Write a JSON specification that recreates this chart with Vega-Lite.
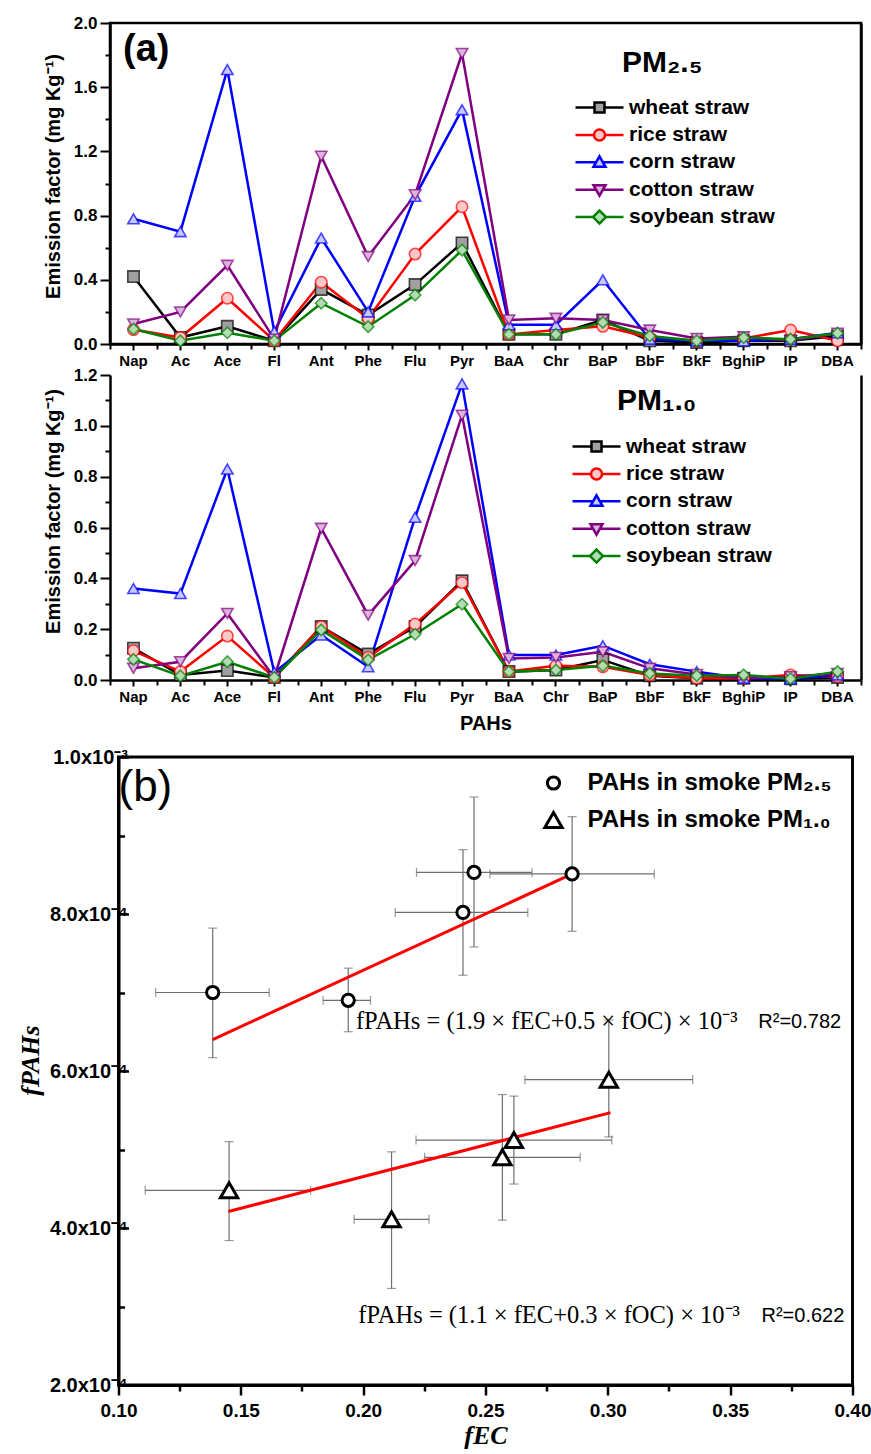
{
  "$schema": "https://vega.github.io/schema/vega-lite/v6.json",
  "padding": {"left": 16, "top": 12, "right": 0, "bottom": 0},
  "background": "white",
  "spacing": 31,
  "bounds": "flush",
  "center": true,
  "config": {
    "view": {"stroke": null},
    "font": "Liberation Sans",
    "axis": {"labelColor": "#000", "titleColor": "#000", "grid": false, "tickColor": "#000", "domainColor": "#000"},
    "legend": {"labelColor": "#000", "titleColor": "#000"}
  },
  "datasets": {
    "pm25": [
      {"pah":"Nap","straw":"wheat straw","ef":0.42},{"pah":"Ac","straw":"wheat straw","ef":0.04},{"pah":"Ace","straw":"wheat straw","ef":0.11},{"pah":"Fl","straw":"wheat straw","ef":0.02},{"pah":"Ant","straw":"wheat straw","ef":0.34},{"pah":"Phe","straw":"wheat straw","ef":0.18},{"pah":"Flu","straw":"wheat straw","ef":0.37},{"pah":"Pyr","straw":"wheat straw","ef":0.63},{"pah":"BaA","straw":"wheat straw","ef":0.06},{"pah":"Chr","straw":"wheat straw","ef":0.06},{"pah":"BaP","straw":"wheat straw","ef":0.15},{"pah":"BbF","straw":"wheat straw","ef":0.02},{"pah":"BkF","straw":"wheat straw","ef":0.01},{"pah":"BghiP","straw":"wheat straw","ef":0.02},{"pah":"IP","straw":"wheat straw","ef":0.02},{"pah":"DBA","straw":"wheat straw","ef":0.05},
      {"pah":"Nap","straw":"rice straw","ef":0.09},{"pah":"Ac","straw":"rice straw","ef":0.04},{"pah":"Ace","straw":"rice straw","ef":0.285},{"pah":"Fl","straw":"rice straw","ef":0.02},{"pah":"Ant","straw":"rice straw","ef":0.385},{"pah":"Phe","straw":"rice straw","ef":0.16},{"pah":"Flu","straw":"rice straw","ef":0.56},{"pah":"Pyr","straw":"rice straw","ef":0.855},{"pah":"BaA","straw":"rice straw","ef":0.06},{"pah":"Chr","straw":"rice straw","ef":0.087},{"pah":"BaP","straw":"rice straw","ef":0.11},{"pah":"BbF","straw":"rice straw","ef":0.04},{"pah":"BkF","straw":"rice straw","ef":0.02},{"pah":"BghiP","straw":"rice straw","ef":0.035},{"pah":"IP","straw":"rice straw","ef":0.087},{"pah":"DBA","straw":"rice straw","ef":0.02},
      {"pah":"Nap","straw":"corn straw","ef":0.78},{"pah":"Ac","straw":"corn straw","ef":0.70},{"pah":"Ace","straw":"corn straw","ef":1.71},{"pah":"Fl","straw":"corn straw","ef":0.077},{"pah":"Ant","straw":"corn straw","ef":0.66},{"pah":"Phe","straw":"corn straw","ef":0.20},{"pah":"Flu","straw":"corn straw","ef":0.92},{"pah":"Pyr","straw":"corn straw","ef":1.46},{"pah":"BaA","straw":"corn straw","ef":0.12},{"pah":"Chr","straw":"corn straw","ef":0.12},{"pah":"BaP","straw":"corn straw","ef":0.40},{"pah":"BbF","straw":"corn straw","ef":0.03},{"pah":"BkF","straw":"corn straw","ef":0.02},{"pah":"BghiP","straw":"corn straw","ef":0.02},{"pah":"IP","straw":"corn straw","ef":0.03},{"pah":"DBA","straw":"corn straw","ef":0.07},
      {"pah":"Nap","straw":"cotton straw","ef":0.125},{"pah":"Ac","straw":"cotton straw","ef":0.20},{"pah":"Ace","straw":"cotton straw","ef":0.49},{"pah":"Fl","straw":"cotton straw","ef":0.03},{"pah":"Ant","straw":"cotton straw","ef":1.17},{"pah":"Phe","straw":"cotton straw","ef":0.545},{"pah":"Flu","straw":"cotton straw","ef":0.93},{"pah":"Pyr","straw":"cotton straw","ef":1.81},{"pah":"BaA","straw":"cotton straw","ef":0.15},{"pah":"Chr","straw":"cotton straw","ef":0.16},{"pah":"BaP","straw":"cotton straw","ef":0.15},{"pah":"BbF","straw":"cotton straw","ef":0.087},{"pah":"BkF","straw":"cotton straw","ef":0.035},{"pah":"BghiP","straw":"cotton straw","ef":0.045},{"pah":"IP","straw":"cotton straw","ef":0.02},{"pah":"DBA","straw":"cotton straw","ef":0.067},
      {"pah":"Nap","straw":"soybean straw","ef":0.093},{"pah":"Ac","straw":"soybean straw","ef":0.02},{"pah":"Ace","straw":"soybean straw","ef":0.07},{"pah":"Fl","straw":"soybean straw","ef":0.02},{"pah":"Ant","straw":"soybean straw","ef":0.254},{"pah":"Phe","straw":"soybean straw","ef":0.108},{"pah":"Flu","straw":"soybean straw","ef":0.305},{"pah":"Pyr","straw":"soybean straw","ef":0.585},{"pah":"BaA","straw":"soybean straw","ef":0.06},{"pah":"Chr","straw":"soybean straw","ef":0.06},{"pah":"BaP","straw":"soybean straw","ef":0.135},{"pah":"BbF","straw":"soybean straw","ef":0.05},{"pah":"BkF","straw":"soybean straw","ef":0.02},{"pah":"BghiP","straw":"soybean straw","ef":0.04},{"pah":"IP","straw":"soybean straw","ef":0.03},{"pah":"DBA","straw":"soybean straw","ef":0.067}
    ],
    "pm10": [
      {"pah":"Nap","straw":"wheat straw","ef":0.125},{"pah":"Ac","straw":"wheat straw","ef":0.02},{"pah":"Ace","straw":"wheat straw","ef":0.037},{"pah":"Fl","straw":"wheat straw","ef":0.01},{"pah":"Ant","straw":"wheat straw","ef":0.21},{"pah":"Phe","straw":"wheat straw","ef":0.102},{"pah":"Flu","straw":"wheat straw","ef":0.21},{"pah":"Pyr","straw":"wheat straw","ef":0.39},{"pah":"BaA","straw":"wheat straw","ef":0.033},{"pah":"Chr","straw":"wheat straw","ef":0.039},{"pah":"BaP","straw":"wheat straw","ef":0.079},{"pah":"BbF","straw":"wheat straw","ef":0.017},{"pah":"BkF","straw":"wheat straw","ef":0.007},{"pah":"BghiP","straw":"wheat straw","ef":0.007},{"pah":"IP","straw":"wheat straw","ef":0.005},{"pah":"DBA","straw":"wheat straw","ef":0.01},
      {"pah":"Nap","straw":"rice straw","ef":0.115},{"pah":"Ac","straw":"rice straw","ef":0.033},{"pah":"Ace","straw":"rice straw","ef":0.173},{"pah":"Fl","straw":"rice straw","ef":0.01},{"pah":"Ant","straw":"rice straw","ef":0.21},{"pah":"Phe","straw":"rice straw","ef":0.089},{"pah":"Flu","straw":"rice straw","ef":0.22},{"pah":"Pyr","straw":"rice straw","ef":0.383},{"pah":"BaA","straw":"rice straw","ef":0.033},{"pah":"Chr","straw":"rice straw","ef":0.056},{"pah":"BaP","straw":"rice straw","ef":0.052},{"pah":"BbF","straw":"rice straw","ef":0.02},{"pah":"BkF","straw":"rice straw","ef":0.007},{"pah":"BghiP","straw":"rice straw","ef":0.007},{"pah":"IP","straw":"rice straw","ef":0.02},{"pah":"DBA","straw":"rice straw","ef":0.013},
      {"pah":"Nap","straw":"corn straw","ef":0.36},{"pah":"Ac","straw":"corn straw","ef":0.34},{"pah":"Ace","straw":"corn straw","ef":0.83},{"pah":"Fl","straw":"corn straw","ef":0.03},{"pah":"Ant","straw":"corn straw","ef":0.177},{"pah":"Phe","straw":"corn straw","ef":0.052},{"pah":"Flu","straw":"corn straw","ef":0.64},{"pah":"Pyr","straw":"corn straw","ef":1.165},{"pah":"BaA","straw":"corn straw","ef":0.098},{"pah":"Chr","straw":"corn straw","ef":0.098},{"pah":"BaP","straw":"corn straw","ef":0.135},{"pah":"BbF","straw":"corn straw","ef":0.062},{"pah":"BkF","straw":"corn straw","ef":0.033},{"pah":"BghiP","straw":"corn straw","ef":0.007},{"pah":"IP","straw":"corn straw","ef":0.005},{"pah":"DBA","straw":"corn straw","ef":0.02},
      {"pah":"Nap","straw":"cotton straw","ef":0.046},{"pah":"Ac","straw":"cotton straw","ef":0.072},{"pah":"Ace","straw":"cotton straw","ef":0.262},{"pah":"Fl","straw":"cotton straw","ef":0.01},{"pah":"Ant","straw":"cotton straw","ef":0.597},{"pah":"Phe","straw":"cotton straw","ef":0.255},{"pah":"Flu","straw":"cotton straw","ef":0.47},{"pah":"Pyr","straw":"cotton straw","ef":1.042},{"pah":"BaA","straw":"cotton straw","ef":0.085},{"pah":"Chr","straw":"cotton straw","ef":0.089},{"pah":"BaP","straw":"cotton straw","ef":0.111},{"pah":"BbF","straw":"cotton straw","ef":0.046},{"pah":"BkF","straw":"cotton straw","ef":0.022},{"pah":"BghiP","straw":"cotton straw","ef":0.007},{"pah":"IP","straw":"cotton straw","ef":0.013},{"pah":"DBA","straw":"cotton straw","ef":0.026},
      {"pah":"Nap","straw":"soybean straw","ef":0.081},{"pah":"Ac","straw":"soybean straw","ef":0.016},{"pah":"Ace","straw":"soybean straw","ef":0.072},{"pah":"Fl","straw":"soybean straw","ef":0.01},{"pah":"Ant","straw":"soybean straw","ef":0.197},{"pah":"Phe","straw":"soybean straw","ef":0.079},{"pah":"Flu","straw":"soybean straw","ef":0.18},{"pah":"Pyr","straw":"soybean straw","ef":0.298},{"pah":"BaA","straw":"soybean straw","ef":0.033},{"pah":"Chr","straw":"soybean straw","ef":0.039},{"pah":"BaP","straw":"soybean straw","ef":0.056},{"pah":"BbF","straw":"soybean straw","ef":0.026},{"pah":"BkF","straw":"soybean straw","ef":0.017},{"pah":"BghiP","straw":"soybean straw","ef":0.02},{"pah":"IP","straw":"soybean straw","ef":0.005},{"pah":"DBA","straw":"soybean straw","ef":0.033}
    ],
    "pts": [
      {"type":"PAHs in smoke PM₂.₅","fec":0.1385,"fpahs":0.000700,"xlo":0.1152,"xhi":0.1616,"ylo":0.000617,"yhi":0.000782},
      {"type":"PAHs in smoke PM₂.₅","fec":0.1939,"fpahs":0.000690,"xlo":0.1836,"xhi":0.2030,"ylo":0.000650,"yhi":0.000731},
      {"type":"PAHs in smoke PM₂.₅","fec":0.2408,"fpahs":0.000802,"xlo":0.2131,"xhi":0.2673,"ylo":0.000722,"yhi":0.000882},
      {"type":"PAHs in smoke PM₂.₅","fec":0.2453,"fpahs":0.000853,"xlo":0.2218,"xhi":0.2690,"ylo":0.000758,"yhi":0.000949},
      {"type":"PAHs in smoke PM₂.₅","fec":0.2854,"fpahs":0.000851,"xlo":0.2518,"xhi":0.3190,"ylo":0.000778,"yhi":0.000924},
      {"type":"PAHs in smoke PM₁.₀","fec":0.1452,"fpahs":0.000448,"xlo":0.1109,"xhi":0.1785,"ylo":0.000384,"yhi":0.000510},
      {"type":"PAHs in smoke PM₁.₀","fec":0.2116,"fpahs":0.000411,"xlo":0.1963,"xhi":0.2269,"ylo":0.000323,"yhi":0.000497},
      {"type":"PAHs in smoke PM₁.₀","fec":0.2569,"fpahs":0.000490,"xlo":0.2251,"xhi":0.2887,"ylo":0.000410,"yhi":0.000570},
      {"type":"PAHs in smoke PM₁.₀","fec":0.2616,"fpahs":0.000512,"xlo":0.2216,"xhi":0.3016,"ylo":0.000456,"yhi":0.000568},
      {"type":"PAHs in smoke PM₁.₀","fec":0.3004,"fpahs":0.000589,"xlo":0.2661,"xhi":0.3347,"ylo":0.000516,"yhi":0.000665}
    ],
    "fit": [
      {"type":"PM2.5","fec":0.1385,"fpahs":0.000640},
      {"type":"PM2.5","fec":0.2854,"fpahs":0.000851},
      {"type":"PM1.0","fec":0.1449,"fpahs":0.000421},
      {"type":"PM1.0","fec":0.3011,"fpahs":0.000547}
    ],
    "eqs": [
      {"eq":"fPAHs = (1.9 × fEC+0.5 × fOC) × 10⁻³","r2":"R²=0.782","ex":0.353,"ey":0.000662,"rx":0.3615},
      {"eq":"fPAHs = (1.1 × fEC+0.3 × fOC) × 10⁻³","r2":"R²=0.622","ex":0.354,"ey":0.000288,"rx":0.3628}
    ]
  },
  "resolve": {"scale": {"color": "independent", "stroke": "independent", "fill": "independent", "shape": "independent", "size": "independent"}},
  "vconcat": [
    {
      "width": 751, "height": 321,
      "data": {"name": "pm25"},
      "view": {"stroke": "#000", "strokeWidth": 2.5},
      "title": {"text": "(a)", "anchor": "start", "frame": "group", "baseline": "top", "offset": 0, "dx": 13, "dy": 55, "fontSize": 38, "fontWeight": "bold", "font": "Liberation Sans", "color": "#000"},
      "layer": [
        {
          "mark": {"type": "line", "strokeWidth": 2.5},
          "encoding": {
            "x": {"field": "pah", "type": "nominal", "sort": ["Nap","Ac","Ace","Fl","Ant","Phe","Flu","Pyr","BaA","Chr","BaP","BbF","BkF","BghiP","IP","DBA"], "scale": {"type": "band", "paddingInner": 0, "paddingOuter": 0},
              "axis": {"orient": "bottom", "title": null, "labelFontSize": 15, "labelFontWeight": "bold", "labelAngle": 0, "tickSize": 6, "tickWidth": 2, "domainWidth": 2.5, "labelPadding": 3}},
            "y": {"field": "ef", "type": "quantitative", "scale": {"domain": [0, 2], "nice": false},
              "axis": {"orient": "left", "values": [0,0.2,0.4,0.6,0.8,1.0,1.2,1.4,1.6,1.8,2.0], "labelExpr": "round(datum.value*10) % 4 === 0 ? format(datum.value, '.1f') : ''", "tickSize": {"condition": {"test": "round(datum.value*10) % 4 === 0", "value": 10}, "value": 5}, "tickWidth": 2, "domainWidth": 2.5, "labelFontSize": 17, "labelFontWeight": "bold", "labelPadding": 3, "title": "Emission factor (mg Kg⁻¹)", "titleFontSize": 20, "titleFontWeight": "bold", "titleX": -57, "titleY": 153, "titleBaseline": "middle"}},
            "stroke": {"field": "straw", "type": "nominal", "scale": {"domain": ["wheat straw","rice straw","corn straw","cotton straw","soybean straw"], "range": ["#000000","#ff0000","#0000ff","#800080","#008000"]},
              "legend": {"orient": "none", "legendX": 479, "legendY": 25, "title": "PM₂.₅", "titleFontSize": 30, "titleFontWeight": "bold", "titlePadding": 19, "titleAnchor": "start", "labelFontSize": 21, "labelFontWeight": "bold", "labelOffset": 19, "rowPadding": 4.4, "gridAlign": "all", "symbolSize": 100, "symbolStrokeWidth": 2.5, "padding": 0, "labelLimit": 400,
                "encoding": {
                  "symbols": {
                    "shape": {"value": {"expr": "datum.value === 'wheat straw' ? 'M-4.8,0H-1M1,0H4.8M-1,-1H1V1H-1Z' : datum.value === 'rice straw' ? 'M-4.8,0H-1.1M1.1,0H4.8M-1.1,0A1.1,1.1,0,1,1,1.1,0A1.1,1.1,0,1,1,-1.1,0Z' : datum.value === 'corn straw' ? 'M-4.8,0H-0.69M0.69,0H4.8M0,-1.2L1.2,0.9L-1.2,0.9Z' : datum.value === 'cotton straw' ? 'M-4.8,0H-0.69M0.69,0H4.8M0,1.2L1.2,-0.9L-1.2,-0.9Z' : 'M-4.8,0H-1.3M1.3,0H4.8M0,-1.3L1.3,0L0,1.3L-1.3,0Z'"}},
                    "fill": {"value": {"expr": "datum.value === 'wheat straw' ? '#a0a0a0' : datum.value === 'rice straw' ? '#ffc8c8' : datum.value === 'corn straw' ? '#c8c8ff' : datum.value === 'cotton straw' ? '#dcb4dc' : '#b4dcb4'"}},
                    "size": {"value": 100},
                    "strokeWidth": {"value": 2.5},
                    "opacity": {"value": 1},
                    "strokeOpacity": {"value": 1},
                    "fillOpacity": {"value": 1}
                  },
                  "title": {"dx": {"value": 33}}
                }}}
          }
        },
        {
          "mark": {"type": "point", "size": 130, "strokeWidth": 1.6, "strokeOpacity": 0.7, "opacity": 1, "fillOpacity": 1},
          "encoding": {
            "x": {"field": "pah", "type": "nominal", "sort": ["Nap","Ac","Ace","Fl","Ant","Phe","Flu","Pyr","BaA","Chr","BaP","BbF","BkF","BghiP","IP","DBA"],
              "axis": {"orient": "bottom", "title": null, "labels": false, "domain": false, "tickBand": "extent", "tickSize": 5, "tickWidth": 2}},
            "y": {"field": "ef", "type": "quantitative",
              "axis": {"orient": "right", "labels": false, "ticks": false, "domain": true, "domainWidth": 2.5, "title": null}},
            "shape": {"field": "straw", "type": "nominal", "sort": ["wheat straw","rice straw","corn straw","cotton straw","soybean straw"], "scale": {"range": ["square","circle","triangle-up","triangle-down","diamond"]}, "legend": null},
            "fill": {"field": "straw", "type": "nominal", "sort": ["wheat straw","rice straw","corn straw","cotton straw","soybean straw"], "scale": {"range": ["#a0a0a0","#ffc8c8","#c8c8ff","#dcb4dc","#b4dcb4"]}, "legend": null},
            "stroke": {"field": "straw", "type": "nominal"}
          }
        }
      ],
      "resolve": {"axis": {"x": "independent", "y": "independent"}}
    },
    {
      "width": 751, "height": 305,
      "data": {"name": "pm10"},
      "layer": [
        {
          "mark": {"type": "line", "strokeWidth": 2.5},
          "encoding": {
            "x": {"field": "pah", "type": "nominal", "sort": ["Nap","Ac","Ace","Fl","Ant","Phe","Flu","Pyr","BaA","Chr","BaP","BbF","BkF","BghiP","IP","DBA"], "scale": {"type": "band", "paddingInner": 0, "paddingOuter": 0},
              "axis": {"orient": "bottom", "title": "PAHs", "titleFontSize": 20, "titleFontWeight": "bold", "titleY": 43, "titleBaseline": "middle", "labelFontSize": 15, "labelFontWeight": "bold", "labelAngle": 0, "tickSize": 6, "tickWidth": 2, "domainWidth": 2.5, "labelPadding": 3}},
            "y": {"field": "ef", "type": "quantitative", "scale": {"domain": [0, 1.2], "nice": false},
              "axis": {"orient": "left", "values": [0,0.1,0.2,0.3,0.4,0.5,0.6,0.7,0.8,0.9,1.0,1.1,1.2], "labelExpr": "round(datum.value*10) % 2 === 0 ? format(datum.value, '.1f') : ''", "tickSize": {"condition": {"test": "round(datum.value*10) % 2 === 0", "value": 10}, "value": 5}, "tickWidth": 2, "domainWidth": 2.5, "labelFontSize": 17, "labelFontWeight": "bold", "labelPadding": 3, "title": "Emission factor (mg Kg⁻¹)", "titleFontSize": 20, "titleFontWeight": "bold", "titleX": -57, "titleY": 136, "titleBaseline": "middle"}},
            "stroke": {"field": "straw", "type": "nominal", "scale": {"domain": ["wheat straw","rice straw","corn straw","cotton straw","soybean straw"], "range": ["#000000","#ff0000","#0000ff","#800080","#008000"]},
              "legend": {"orient": "none", "legendX": 476, "legendY": 11, "title": "PM₁.₀", "titleFontSize": 30, "titleFontWeight": "bold", "titlePadding": 20, "titleAnchor": "start", "labelFontSize": 21, "labelFontWeight": "bold", "labelOffset": 19, "rowPadding": 4.4, "gridAlign": "all", "symbolSize": 100, "symbolStrokeWidth": 2.5, "padding": 0, "labelLimit": 400,
                "encoding": {
                  "symbols": {
                    "shape": {"value": {"expr": "datum.value === 'wheat straw' ? 'M-4.8,0H-1M1,0H4.8M-1,-1H1V1H-1Z' : datum.value === 'rice straw' ? 'M-4.8,0H-1.1M1.1,0H4.8M-1.1,0A1.1,1.1,0,1,1,1.1,0A1.1,1.1,0,1,1,-1.1,0Z' : datum.value === 'corn straw' ? 'M-4.8,0H-0.69M0.69,0H4.8M0,-1.2L1.2,0.9L-1.2,0.9Z' : datum.value === 'cotton straw' ? 'M-4.8,0H-0.69M0.69,0H4.8M0,1.2L1.2,-0.9L-1.2,-0.9Z' : 'M-4.8,0H-1.3M1.3,0H4.8M0,-1.3L1.3,0L0,1.3L-1.3,0Z'"}},
                    "fill": {"value": {"expr": "datum.value === 'wheat straw' ? '#a0a0a0' : datum.value === 'rice straw' ? '#ffc8c8' : datum.value === 'corn straw' ? '#c8c8ff' : datum.value === 'cotton straw' ? '#dcb4dc' : '#b4dcb4'"}},
                    "size": {"value": 100},
                    "strokeWidth": {"value": 2.5},
                    "opacity": {"value": 1},
                    "strokeOpacity": {"value": 1},
                    "fillOpacity": {"value": 1}
                  },
                  "title": {"dx": {"value": 31}}
                }}}
          }
        },
        {
          "mark": {"type": "point", "size": 130, "strokeWidth": 1.6, "strokeOpacity": 0.7, "opacity": 1, "fillOpacity": 1},
          "encoding": {
            "x": {"field": "pah", "type": "nominal", "sort": ["Nap","Ac","Ace","Fl","Ant","Phe","Flu","Pyr","BaA","Chr","BaP","BbF","BkF","BghiP","IP","DBA"],
              "axis": {"orient": "bottom", "title": null, "labels": false, "domain": false, "tickBand": "extent", "tickSize": 5, "tickWidth": 2}},
            "y": {"field": "ef", "type": "quantitative",
              "axis": {"orient": "right", "labels": false, "ticks": false, "domain": true, "domainWidth": 2.5, "title": null}},
            "shape": {"field": "straw", "type": "nominal", "sort": ["wheat straw","rice straw","corn straw","cotton straw","soybean straw"], "scale": {"range": ["square","circle","triangle-up","triangle-down","diamond"]}, "legend": null},
            "fill": {"field": "straw", "type": "nominal", "sort": ["wheat straw","rice straw","corn straw","cotton straw","soybean straw"], "scale": {"range": ["#a0a0a0","#ffc8c8","#c8c8ff","#dcb4dc","#b4dcb4"]}, "legend": null},
            "stroke": {"field": "straw", "type": "nominal"}
          }
        }
      ],
      "resolve": {"axis": {"x": "independent", "y": "independent"}}
    },
    {
      "width": 751, "height": 15,
      "data": {"values": [{}]},
      "mark": {"type": "text", "text": ""},
      "encoding": {}
    },
    {
      "width": 734, "height": 628,
      "view": {"stroke": "#000", "strokeWidth": 3},
      "title": {"text": "(b)", "anchor": "start", "frame": "group", "baseline": "top", "offset": 0, "dx": 0, "dy": 63, "fontSize": 44, "fontWeight": "normal", "font": "Liberation Sans", "color": "#000"},
      "layer": [
        {
          "data": {"name": "pts"},
          "mark": {"type": "rule", "color": "#6e6e6e", "strokeWidth": 1.2},
          "encoding": {
            "x": {"field": "xlo", "type": "quantitative", "scale": {"domain": [0.1, 0.4], "nice": false, "zero": false},
              "axis": {"values": [0.1,0.125,0.15,0.175,0.2,0.225,0.25,0.275,0.3,0.325,0.35,0.375,0.4], "labelExpr": "round(datum.value*1000) % 50 === 0 ? format(datum.value, '.2f') : ''", "labelFlush": false, "tickSize": {"condition": {"test": "round(datum.value*1000) % 50 === 0", "value": 10}, "value": 6}, "tickWidth": 2.5, "domainWidth": 3, "labelFontSize": 19, "labelFontWeight": "bold", "labelPadding": 6, "title": "fEC", "titleFont": "Liberation Serif", "titleFontStyle": "italic", "titleFontWeight": "bold", "titleFontSize": 26, "titleY": 50, "titleBaseline": "middle"}},
            "x2": {"field": "xhi"},
            "y": {"field": "fpahs", "type": "quantitative", "scale": {"domain": [0.0002, 0.001], "nice": false, "zero": false},
              "axis": {"values": [0.0002,0.0003,0.0004,0.0005,0.0006,0.0007,0.0008,0.0009,0.001], "labelExpr": "round(datum.value*10000) % 2 === 0 ? (datum.value > 0.00099 ? '1.0x10⁻³' : format(datum.value*10000, '.1f') + 'x10⁻⁴') : ''", "labelFlush": false, "tickSize": {"condition": {"test": "round(datum.value*10000) % 2 === 0", "value": -10}, "value": -6}, "tickWidth": 2.5, "domainWidth": 3, "labelFontSize": 20, "labelFontWeight": "bold", "labelPadding": 1, "title": "fPAHs", "titleFont": "Liberation Serif", "titleFontStyle": "italic", "titleFontWeight": "bold", "titleFontSize": 26, "titleX": -88, "titleY": 303, "titleBaseline": "middle"}}
          }
        },
        {
          "data": {"name": "pts"},
          "mark": {"type": "rule", "color": "#6e6e6e", "strokeWidth": 1.2},
          "encoding": {
            "x": {"field": "fec", "type": "quantitative"},
            "y": {"field": "ylo", "type": "quantitative"},
            "y2": {"field": "yhi"}
          }
        },
        {
          "data": {"name": "pts"},
          "mark": {"type": "tick", "orient": "vertical", "size": 9, "thickness": 1.2, "color": "#6e6e6e"},
          "encoding": {"x": {"field": "xlo", "type": "quantitative"}, "y": {"field": "fpahs", "type": "quantitative"}}
        },
        {
          "data": {"name": "pts"},
          "mark": {"type": "tick", "orient": "vertical", "size": 9, "thickness": 1.2, "color": "#6e6e6e"},
          "encoding": {"x": {"field": "xhi", "type": "quantitative"}, "y": {"field": "fpahs", "type": "quantitative"}}
        },
        {
          "data": {"name": "pts"},
          "mark": {"type": "tick", "orient": "horizontal", "size": 9, "thickness": 1.2, "color": "#6e6e6e"},
          "encoding": {"x": {"field": "fec", "type": "quantitative"}, "y": {"field": "ylo", "type": "quantitative"}}
        },
        {
          "data": {"name": "pts"},
          "mark": {"type": "tick", "orient": "horizontal", "size": 9, "thickness": 1.2, "color": "#6e6e6e"},
          "encoding": {"x": {"field": "fec", "type": "quantitative"}, "y": {"field": "yhi", "type": "quantitative"}}
        },
        {
          "data": {"name": "fit"},
          "mark": {"type": "line", "color": "#ff0000", "strokeWidth": 3},
          "encoding": {"x": {"field": "fec", "type": "quantitative"}, "y": {"field": "fpahs", "type": "quantitative"}, "detail": {"field": "type", "type": "nominal"}}
        },
        {
          "data": {"name": "pts"},
          "mark": {"type": "point", "filled": false, "stroke": "#000", "strokeWidth": 3, "opacity": 1, "fill": "white", "fillOpacity": 1},
          "encoding": {
            "x": {"field": "fec", "type": "quantitative"},
            "y": {"field": "fpahs", "type": "quantitative"},
            "shape": {"field": "type", "type": "nominal", "scale": {"domain": ["PAHs in smoke PM₂.₅","PAHs in smoke PM₁.₀"], "range": ["circle","triangle-up"]},
              "legend": {"orient": "none", "legendX": 423, "legendY": 14, "title": null, "labelFontSize": 24, "labelFontWeight": "bold", "labelOffset": 22, "labelLimit": 400, "rowPadding": 10, "symbolStrokeWidth": 3, "symbolStrokeColor": "#000", "symbolFillColor": "white", "padding": 0,
                "encoding": {"symbols": {"stroke": {"value": "#000"}, "strokeWidth": {"value": 3}, "fill": {"value": "white"}, "opacity": {"value": 1}}}}},
            "size": {"field": "type", "type": "nominal", "scale": {"domain": ["PAHs in smoke PM₂.₅","PAHs in smoke PM₁.₀"], "range": [150, 300]}}
          }
        },
        {
          "data": {"name": "eqs"},
          "mark": {"type": "text", "align": "right", "baseline": "middle", "font": "Liberation Serif", "fontSize": 24.5, "color": "#000"},
          "encoding": {"x": {"field": "ex", "type": "quantitative"}, "y": {"field": "ey", "type": "quantitative"}, "text": {"field": "eq"}}
        },
        {
          "data": {"name": "eqs"},
          "mark": {"type": "text", "align": "left", "baseline": "middle", "font": "Liberation Sans", "fontSize": 20, "color": "#000"},
          "encoding": {"x": {"field": "rx", "type": "quantitative"}, "y": {"field": "ey", "type": "quantitative"}, "text": {"field": "r2"}}
        }
      ]
    }
  ]
}
